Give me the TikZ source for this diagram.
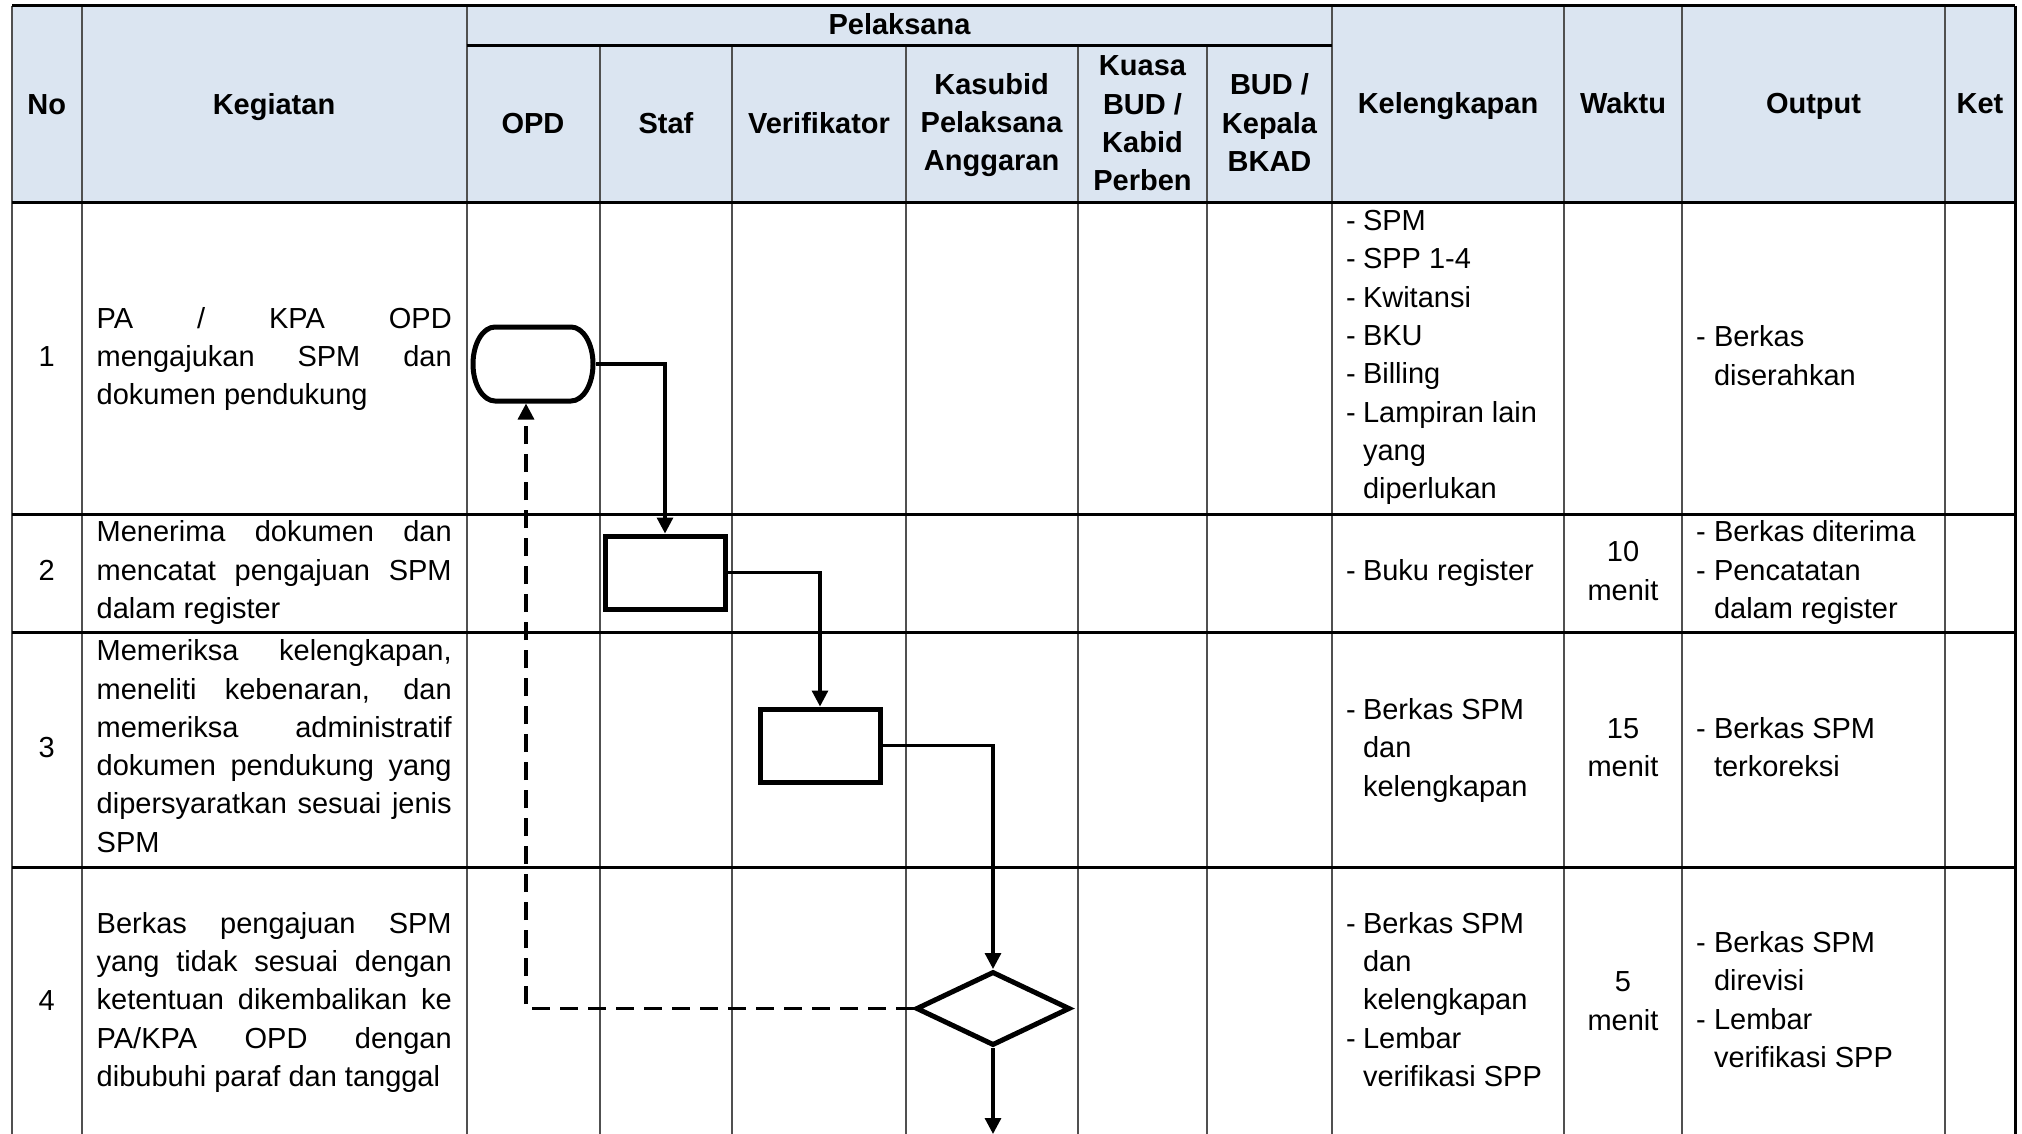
\documentclass[tikz,border=0pt]{standalone}
\usepackage{fontspec}
\setmainfont{Liberation Sans}
\usetikzlibrary{shapes.geometric,arrows.meta}

\definecolor{headfill}{RGB}{219,229,241}
\definecolor{gridgray}{RGB}{80,80,80}

\tikzset{
  txt/.style={inner sep=0pt, outer sep=0pt, font=\fontsize{14.5pt}{19.2pt}\selectfont},
  head/.style={inner sep=0pt, outer sep=0pt, font=\fontsize{14.5pt}{19.2pt}\selectfont\bfseries},
  hrule/.style={line width=1.5pt, black},
  vrule/.style={line width=1pt, gridgray},
  procbox/.style={draw, rectangle, line width=2.5pt, minimum width=60pt, minimum height=36.5pt, inner sep=0pt},
  decbox/.style={draw, diamond, line width=2.5pt, minimum width=77pt, minimum height=37pt, inner sep=0pt},
  termbox/.style={rectangle, minimum width=60pt, minimum height=37pt, inner sep=0pt, outer sep=1.25pt},
  shapeline/.style={line width=2.5pt, line join=round},
  conn/.style={line width=1.6pt, -{Triangle[length=8pt,width=8pt]}},
  backflow/.style={conn, dash pattern=on 9pt off 5pt},
}

% one line of cell text, set at its baseline
\newcommand\celltext[4]{\node[txt,anchor=base west] (#1) at (#2,#3) {#4};}
\newcommand\celljust[4]{\node[txt,anchor=base west] (#1) at (#2,#3) {\makebox[177.5pt][s]{#4}};}
\newcommand\cellmid[4]{\node[txt,anchor=base] (#1) at (#2,#3) {#4};}
\newcommand\headmid[4]{\node[head,anchor=base] (#1) at (#2,#3) {#4};}

\begin{document}
\begin{tikzpicture}[x=0.5pt,y=-0.5pt]
\useasboundingbox (0,0) rectangle (2022,1134);
\fill[white] (0,0) rectangle (2022,1134);

% header band
\fill[headfill] (12,6) rectangle (2015,203);

% vertical rules
\foreach \xx in {12,81.5,466.7,1332,1564,1682,1945}
  \draw[vrule] (\xx,6) -- (\xx,1134);
\foreach \xx in {599.5,732,905.5,1078,1206.5}
  \draw[vrule] (\xx,46) -- (\xx,1134);
\draw[hrule] (2015,6) -- (2015,1134);

% horizontal rules
\draw[hrule] (12,6) -- (2015,6);
\draw[hrule] (466.7,46) -- (1332,46);
\foreach \yy in {203,514.5,632.5,867}
  \draw[hrule] (12,\yy) -- (2015,\yy);

% header labels
\headmid{hNo}{46.7}{115}{No}
\headmid{hKeg}{274}{115}{Kegiatan}
\headmid{hPel}{899.5}{34.3}{Pelaksana}
\headmid{hOPD}{533}{133.5}{OPD}
\headmid{hStaf}{666}{133.5}{Staf}
\headmid{hVer}{819}{133.5}{Verifikator}
\headmid{hKs1}{991.6}{94.3}{Kasubid}
\headmid{hKs2}{991.6}{132.6}{Pelaksana}
\headmid{hKs3}{991.6}{170.9}{Anggaran}
\headmid{hKu1}{1142.5}{76}{Kuasa}
\headmid{hKu2}{1142.5}{114.3}{BUD /}
\headmid{hKu3}{1142.5}{152.6}{Kabid}
\headmid{hKu4}{1142.5}{190.9}{Perben}
\headmid{hBu1}{1269.5}{95}{BUD /}
\headmid{hBu2}{1269.5}{133.3}{Kepala}
\headmid{hBu3}{1269.5}{171.6}{BKAD}
\headmid{hKel}{1448}{113.5}{Kelengkapan}
\headmid{hWak}{1623}{113.5}{Waktu}
\headmid{hOut}{1813.5}{113.5}{Output}
\headmid{hKet}{1980}{113.5}{Ket}

% row 1
\cellmid{n1}{46.7}{366.7}{1}
\celljust{g1a}{96.7}{328.3}{PA / KPA OPD}
\celljust{g1b}{96.7}{366.6}{mengajukan SPM dan}
\celltext{g1c}{96.7}{404.9}{dokumen pendukung}
\celltext{k1ad}{1346}{230.7}{-}\celltext{k1a}{1363}{230.7}{SPM}
\celltext{k1bd}{1346}{269.0}{-}\celltext{k1b}{1363}{269.0}{SPP 1-4}
\celltext{k1cd}{1346}{307.3}{-}\celltext{k1c}{1363}{307.3}{Kwitansi}
\celltext{k1dd}{1346}{345.6}{-}\celltext{k1d}{1363}{345.6}{BKU}
\celltext{k1ed}{1346}{383.9}{-}\celltext{k1e}{1363}{383.9}{Billing}
\celltext{k1fd}{1346}{422.2}{-}\celltext{k1f}{1363}{422.2}{Lampiran lain}
\celltext{k1g}{1363}{460.5}{yang}
\celltext{k1h}{1363}{498.8}{diperlukan}
\celltext{o1ad}{1696}{346.7}{-}\celltext{o1a}{1714}{346.7}{Berkas}
\celltext{o1b}{1714}{385.0}{diserahkan}

% row 2
\cellmid{n2}{46.7}{580}{2}
\celljust{g2a}{96.7}{541.7}{Menerima dokumen dan}
\celljust{g2b}{96.7}{580.0}{mencatat pengajuan SPM}
\celltext{g2c}{96.7}{618.3}{dalam register}
\celltext{k2ad}{1346}{580}{-}\celltext{k2a}{1363}{580}{Buku register}
\cellmid{w2a}{1623}{561.7}{10}
\cellmid{w2b}{1623}{600.0}{menit}
\celltext{o2ad}{1696}{541.7}{-}\celltext{o2a}{1714}{541.7}{Berkas diterima}
\celltext{o2bd}{1696}{580.0}{-}\celltext{o2b}{1714}{580.0}{Pencatatan}
\celltext{o2c}{1714}{618.3}{dalam register}

% row 3
\cellmid{n3}{46.7}{757}{3}
\celljust{g3a}{96.7}{660.7}{Memeriksa kelengkapan,}
\celljust{g3b}{96.7}{699.0}{meneliti kebenaran, dan}
\celljust{g3c}{96.7}{737.3}{memeriksa administratif}
\celljust{g3d}{96.7}{775.6}{dokumen pendukung yang}
\celljust{g3e}{96.7}{813.9}{dipersyaratkan sesuai jenis}
\celltext{g3f}{96.7}{852.2}{SPM}
\celltext{k3ad}{1346}{719.5}{-}\celltext{k3a}{1363}{719.5}{Berkas SPM}
\celltext{k3b}{1363}{757.8}{dan}
\celltext{k3c}{1363}{796.1}{kelengkapan}
\cellmid{w3a}{1623}{738.3}{15}
\cellmid{w3b}{1623}{776.6}{menit}
\celltext{o3ad}{1696}{738.3}{-}\celltext{o3a}{1714}{738.3}{Berkas SPM}
\celltext{o3b}{1714}{776.6}{terkoreksi}

% row 4
\cellmid{n4}{46.7}{1010}{4}
\celljust{g4a}{96.7}{933.3}{Berkas pengajuan SPM}
\celljust{g4b}{96.7}{971.6}{yang tidak sesuai dengan}
\celljust{g4c}{96.7}{1009.9}{ketentuan dikembalikan ke}
\celljust{g4d}{96.7}{1048.2}{PA/KPA OPD dengan}
\celltext{g4e}{96.7}{1086.5}{dibubuhi paraf dan tanggal}
\celltext{k4ad}{1346}{933.3}{-}\celltext{k4a}{1363}{933.3}{Berkas SPM}
\celltext{k4b}{1363}{971.6}{dan}
\celltext{k4c}{1363}{1009.9}{kelengkapan}
\celltext{k4dd}{1346}{1048.2}{-}\celltext{k4d}{1363}{1048.2}{Lembar}
\celltext{k4e}{1363}{1086.5}{verifikasi SPP}
\cellmid{w4a}{1623}{991.7}{5}
\cellmid{w4b}{1623}{1030.0}{menit}
\celltext{o4ad}{1696}{952.5}{-}\celltext{o4a}{1714}{952.5}{Berkas SPM}
\celltext{o4b}{1714}{990.8}{direvisi}
\celltext{o4cd}{1696}{1029.1}{-}\celltext{o4c}{1714}{1029.1}{Lembar}
\celltext{o4d}{1714}{1067.4}{verifikasi SPP}

% flow symbols
\node[termbox] (t1) at (533,364) {};
\draw[shapeline, shift={(t1.center)}] (-19pt,18.5pt) -- (19pt,18.5pt)
  arc[start angle=90, end angle=-90, x radius=11pt, y radius=18.5pt]
  -- (-19pt,-18.5pt)
  arc[start angle=-90, end angle=-270, x radius=11pt, y radius=18.5pt] -- cycle;
\node[procbox] (b2) at (665,572.5) {};
\node[procbox] (b3) at (820,745.5) {};
\node[decbox] (d4) at (993,1008.5) {};
\coordinate (next) at (993,1134);

% flow connectors
\draw[conn] (t1.east) -| (b2.north);
\draw[conn] (b2.east) -| (b3.north);
\draw[conn] (b3.east) -| (d4.north);
\draw[conn] (d4.south) -- (next);
\draw[backflow] (d4.west) -| ([xshift=-3.5pt]t1.south);
\end{tikzpicture}
\end{document}
